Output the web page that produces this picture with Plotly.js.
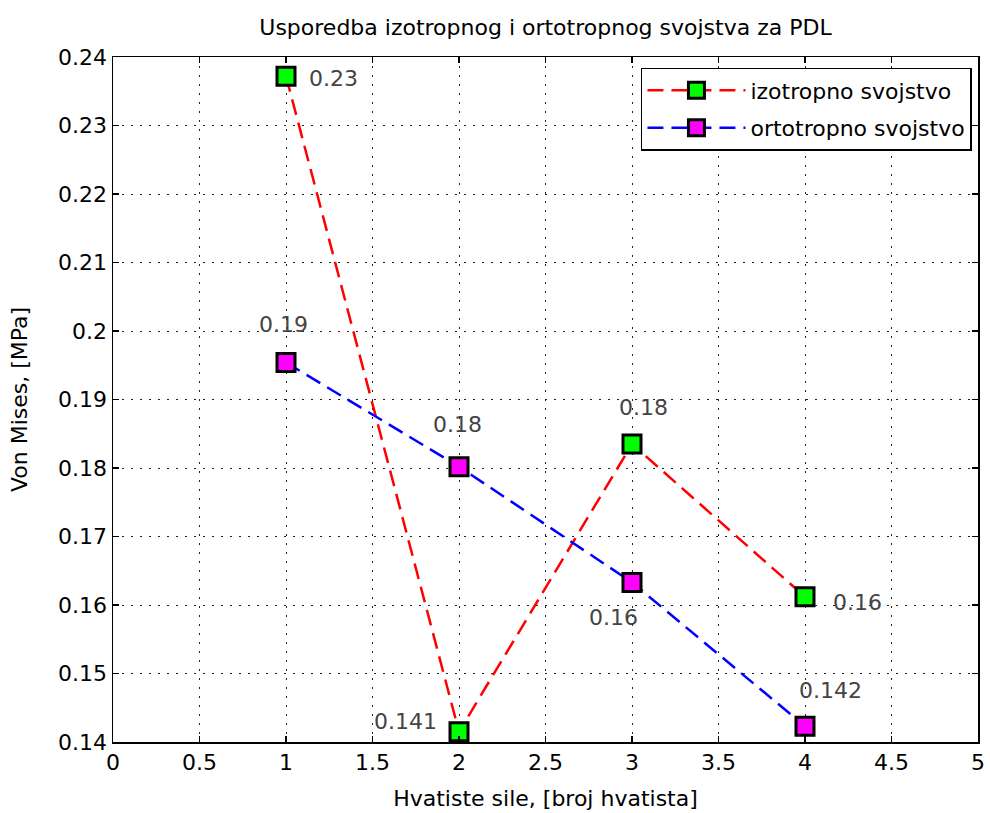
<!DOCTYPE html>
<html>
<head>
<meta charset="utf-8">
<script src="https://cdn.plot.ly/plotly-3.0.1.min.js"></script>
<style>html,body{margin:0;padding:0;background:#fff;}#chart{width:990px;height:813px;}</style>
</head>
<body>
<div id="chart"></div>
<script>
// ---- data ----
const hvatista = [1, 2, 3, 4];
const izotropno = [0.2372, 0.1415, 0.1835, 0.1612];
const ortotropno = [0.1954, 0.1802, 0.1633, 0.1423];
const izoLabels = ['0.23', '0.141', '0.18', '0.16'];
const ortoLabels = ['0.19', '0.18', '0.16', '0.142'];
const seriesNames = ['izotropno svojstvo', 'ortotropno svojstvo'];
const titleText = 'Usporedba izotropnog i ortotropnog svojstva za PDL';
const xTitle = 'Hvatiste sile, [broj hvatista]';
const yTitle = 'Von Mises, [MPa]';

// ---- label placement (style) ----
const izoOffsets = [
  {xanchor: 'left', xs: 21, ys: -2},
  {xanchor: 'right', xs: -20, ys: 10},
  {xanchor: 'center', xs: 11, ys: 37},
  {xanchor: 'left', xs: 26, ys: -6}
];
const ortoOffsets = [
  {xanchor: 'center', xs: -3, ys: 38},
  {xanchor: 'center', xs: -2, ys: 42},
  {xanchor: 'center', xs: -19, ys: -35},
  {xanchor: 'center', xs: 25, ys: 36}
];

const FONT = 'DejaVu Sans, sans-serif';
const FS = 22;

function mk(name, y, lineColor, fillColor, grp) {
  return {
    x: hvatista, y: y, name: name, type: 'scatter', mode: 'lines+markers', legendgroup: grp,
    line: {color: lineColor, width: 2.5, dash: '16px,8px'},
    marker: {symbol: 'square', size: 18, color: fillColor, line: {color: '#000', width: 3}}
  };
}

const traces = [
  mk(seriesNames[0], izotropno, '#ff0000', '#00ff00', 'a'),
  mk(seriesNames[1], ortotropno, '#0000ff', '#ff00ff', 'b')
];

const annotations = [];
function addLabels(ys, labels, offs) {
  for (let i = 0; i < hvatista.length; i++) {
    annotations.push({
      x: hvatista[i], y: ys[i], xref: 'x', yref: 'y', text: labels[i], showarrow: false,
      xanchor: offs[i].xanchor, yanchor: 'middle', xshift: offs[i].xs, yshift: offs[i].ys,
      font: {family: FONT, size: FS, color: '#444444'}
    });
  }
}
addLabels(izotropno, izoLabels, izoOffsets);
addLabels(ortotropno, ortoLabels, ortoOffsets);

const axisCommon = {
  showline: true, linecolor: '#000', linewidth: 1.5, mirror: 'ticks',
  ticks: 'inside', ticklen: 6, tickcolor: '#000', tickwidth: 1.5,
  showgrid: true, gridcolor: '#222', gridwidth: 1, griddash: '2px,7px',
  zeroline: false, tickfont: {family: FONT, size: FS, color: '#000'},
  automargin: false
};

const layout = {
  width: 990, height: 813,
  margin: {l: 113, r: 12, t: 57, b: 71},
  paper_bgcolor: '#fff', plot_bgcolor: '#fff',
  font: {family: FONT, size: FS, color: '#000'},
  title: {text: titleText, font: {family: FONT, size: FS, color: '#000'},
          xref: 'paper', x: 0.5, xanchor: 'center', yref: 'container', y: 1 - 27/813, yanchor: 'middle'},
  xaxis: Object.assign({}, axisCommon, {
    range: [0, 5], tickmode: 'linear', tick0: 0, dtick: 0.5,
    title: {text: xTitle, font: {family: FONT, size: FS, color: '#000'}, standoff: 16}
  }),
  yaxis: Object.assign({}, axisCommon, {
    range: [0.14, 0.24], tickmode: 'linear', tick0: 0.14, dtick: 0.01,
    title: {text: yTitle, font: {family: FONT, size: FS, color: '#000'}, standoff: 24}
  }),
  showlegend: true,
  legend: {
    x: 0.993, y: 0.984, xanchor: 'right', yanchor: 'top',
    bgcolor: '#fff', bordercolor: '#000', borderwidth: 1.5,
    font: {family: FONT, size: FS, color: '#000'},
    traceorder: 'grouped', tracegroupgap: 6, itemwidth: 98
  },
  annotations: annotations
};

Plotly.newPlot('chart', traces, layout, {displayModeBar: false, staticPlot: true});
</script>
</body>
</html>
